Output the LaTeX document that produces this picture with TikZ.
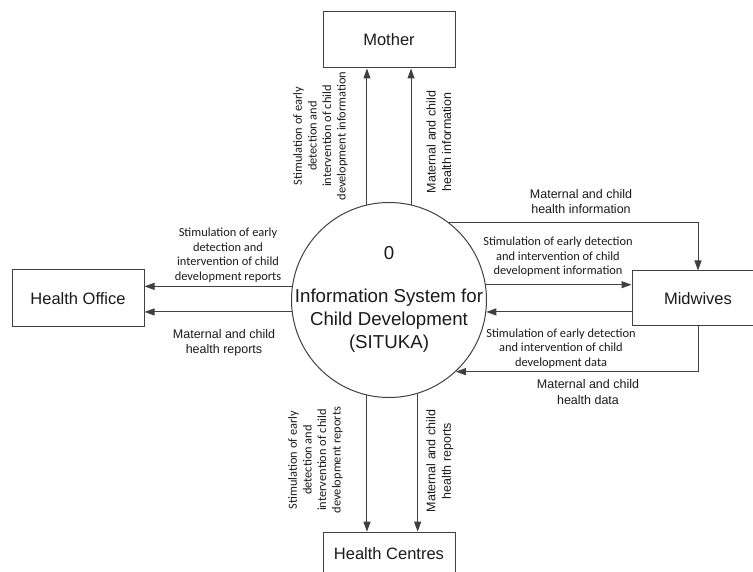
\documentclass[tikz,border=0pt]{standalone}
\usepackage{fontspec}
\setmainfont{Liberation Sans}
\newfontfamily\calib{Carlito}
\usetikzlibrary{arrows.meta}
\definecolor{ln}{HTML}{404040}
\definecolor{tx}{HTML}{1A1A1A}
\begin{document}
\begin{tikzpicture}[x=1pt,y=-1pt,
 box/.style={draw=ln, line width=1pt, fill=white, minimum width=132pt, minimum height=56pt, inner sep=0pt, font=\fontsize{16.5}{19}\selectfont, text=tx},
 proc/.style={draw=ln, line width=1pt, circle, minimum size=195pt, inner sep=0pt},
 flow/.style={draw=ln, line width=1pt, -{Triangle[length=10pt,width=7pt]}},
 lc/.style={font=\calib\fontsize{12.4}{14.6}\selectfont, align=center, text=tx, inner sep=0pt},
 la/.style={font=\fontsize{12.5}{15.5}\selectfont, align=center, text=tx, inner sep=0pt},
 ptext/.style={font=\fontsize{18.7}{23}\selectfont, align=center, text=tx, inner sep=0pt}
]
\clip (0,0) rectangle (753,572);

% nodes
\node[box] (m) at (389,40) {Mother};
\node[box, minimum height=57pt] (ho) at (78,298.5) {Health Office};
\node[box, minimum height=55pt] (mw) at (698,298.5) {Midwives};
\node[box, anchor=north, minimum height=42pt] (hc) at (389,531.7) {Health Centres};
\node[proc] (c) at (389,300) {};
\node[ptext] (c0) at (389,253) {0};
\node[ptext] (ct) at (389,321) {Information System for\\Child Development\\(SITUKA)};

% flows
\draw[flow] (c.103.6) -- (c.103.6 |- m.south);
\draw[flow] (c.77.6) -- (c.77.6 |- m.south);
\draw[flow] (c.172.3) -- (c.172.3 -| ho.east);
\draw[flow] (c.187.7) -- (c.187.7 -| ho.east);
\draw[flow] (c.9.44) -- (c.9.44 -| mw.west);
\draw[flow] (c.-7.66 -| mw.west) -- (c.-7.66);
\draw[flow] (c.52.2) -| (mw.north);
\draw[flow] (mw.south) |- (c.-47.6);
\draw[flow] (c.-103.6) -- (c.-103.6 |- hc.north);
\draw[flow] (c.-73.9) -- (c.-73.9 |- hc.north);

% labels
\node[lc, rotate=90] (l1) at (320.5,136) {Stimulation of early\\detection and\\intervention of child\\development information};
\node[la, rotate=90] (l2) at (439,142) {Maternal and child\\health information};
\node[lc] (l3) at (228,255) {Stimulation of early\\detection and\\intervention of child\\development reports};
\node[la] (l4) at (224,343) {Maternal and child\\health reports};
\node[la] (l5) at (581,201.5) {Maternal and child\\health information};
\node[lc] (l6) at (558,256.7) {Stimulation of early detection\\and intervention of child\\development information};
\node[lc] (l7) at (561,348.5) {Stimulation of early detection\\and intervention of child\\development data};
\node[la] (l8) at (588,392) {Maternal and child\\health data};
\node[lc, rotate=90] (l9) at (315.5,460) {Stimulation of early\\detection and\\intervention of child\\development reports};
\node[la, rotate=90] (l10) at (440,461) {Maternal and child\\health reports};
\end{tikzpicture}
\end{document}
